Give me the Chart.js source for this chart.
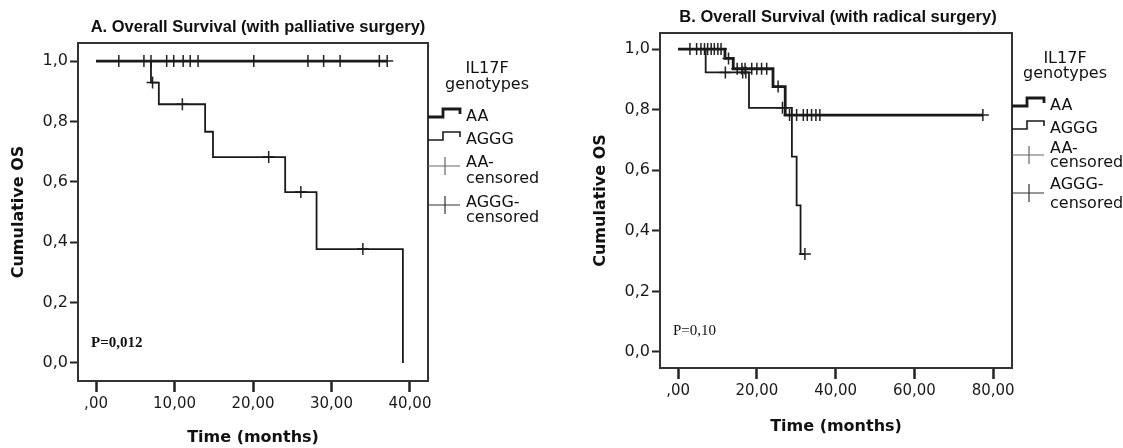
<!DOCTYPE html>
<html>
<head>
<meta charset="utf-8">
<script src="https://cdn.jsdelivr.net/npm/chart.js@4.4.1/dist/chart.umd.min.js"></script>
<style>
  body { margin: 0; background: #fff; width: 1123px; height: 448px; overflow: hidden; position: relative; }
  #wrapA { position: absolute; left: 0; top: 0; }
  #wrapB { position: absolute; left: 560px; top: 0; }
</style>
</head>
<body>
<div id="wrapA"><canvas id="chartA" width="560" height="448"></canvas></div>
<div id="wrapB"><canvas id="chartB" width="563" height="448"></canvas></div>
<script>
// Panel A - palliative surgery (Kaplan-Meier steps)
const timeA_AA = [0, 37.1];
const survA_AA = [1, 1];
const timeA_AGGG = [0, 7.0, 8.0, 13.9, 14.9, 24.1, 28.1, 39.1];
const survA_AGGG = [1, 0.929, 0.857, 0.766, 0.682, 0.566, 0.377, 0];
const censA_AA = [2.9, 6.1, 7.0, 9.0, 9.9, 11.1, 12.0, 13.0, 20.1, 27.0, 29.0, 31.1, 36.1, 37.1];
const censA_AGGG = [7.2, 11.0, 22.0, 26.1, 34.0];
const xTicksA = [0, 10, 20, 30, 40];

// Panel B - radical surgery
const timeB_AA = [0, 11.9, 14.0, 24.1, 27.2, 77.4];
const survB_AA = [1, 0.969, 0.935, 0.876, 0.782, 0.782];
const timeB_AGGG = [0, 7.0, 18.0, 28.9, 30.1, 31.1, 32.2];
const survB_AGGG = [1, 0.923, 0.806, 0.645, 0.484, 0.323, 0.323];
const censB_AA = [3.0, 4.7, 5.8, 6.7, 7.5, 8.4, 9.2, 10.1, 10.9, 12.8, 15.0, 16.2, 17.0, 18.7, 20.0, 21.2, 22.5, 25.4, 28.3, 30.1, 31.8, 32.8, 33.9, 35.0, 36.0, 77.4];
const censB_AGGG = [12.0, 16.4, 17.2, 26.5, 32.2];
const xTicksB = [0, 20, 40, 60, 80];

const yTicks = [0, 0.2, 0.4, 0.6, 0.8, 1.0];
const groups = ["AA", "AGGG"];

const INK = "#1a1a1a";

function survAt(times, surv, t) {
  let s = surv[0];
  for (let i = 0; i < times.length; i++) {
    if (times[i] <= t) s = surv[i];
  }
  return s;
}

function curve(times, surv, width, label) {
  return {
    label: label,
    data: times.map((t, i) => ({ x: t, y: surv[i] })),
    stepped: true,
    borderColor: INK,
    borderWidth: width,
    pointRadius: 0,
    fill: false
  };
}

function censMarks(cens, times, surv, label) {
  return {
    label: label,
    data: cens.map(t => ({ x: t, y: survAt(times, surv, t) })),
    showLine: false,
    pointStyle: "cross",
    pointRadius: 6,
    pointBorderWidth: 1.5,
    pointBorderColor: "#222",
    borderColor: "#222"
  };
}

// frame around plot area
const framePlugin = {
  id: "frame",
  beforeDatasetsDraw(chart) {
    const a = chart.chartArea, ctx = chart.ctx;
    ctx.save();
    ctx.strokeStyle = "#333";
    ctx.lineWidth = 2;
    ctx.strokeRect(a.left, a.top, a.right - a.left, a.bottom - a.top);
    ctx.restore();
  }
};

// title, SPSS style legend and p value
const decoPlugin = {
  id: "deco",
  afterDraw(chart, args, o) {
    const ctx = chart.ctx, r = chart.chartArea.right;
    ctx.save();
    ctx.fillStyle = "#111";
    ctx.textBaseline = "alphabetic";

    ctx.font = 'bold 16.5px "Liberation Sans", Arial, sans-serif';
    ctx.textAlign = "center";
    ctx.fillText(o.title, o.titleX, o.titleY);

    ctx.font = '16px "DejaVu Sans", sans-serif';
    ctx.fillText("IL17F", o.headX, o.rows[0]);
    ctx.fillText("genotypes", o.headX, o.rows[1]);

    ctx.textAlign = "left";
    const tx = r + 38;
    ctx.strokeStyle = INK;
    // AA / AGGG step glyphs
    [[o.rows[2], 2.8], [o.rows[3], 1.6]].forEach(([y, w], i) => {
      ctx.lineWidth = w;
      ctx.beginPath();
      ctx.moveTo(r, y - 4);
      ctx.lineTo(r + 15, y - 4);
      ctx.lineTo(r + 15, y - 12);
      ctx.lineTo(r + 32, y - 12);
      ctx.lineTo(r + 32, y - 7);
      ctx.stroke();
      ctx.fillText(groups[i], tx, y);
    });
    // censored glyphs
    [[o.rows[4], o.rows[5], o.lines[0]], [o.rows[6], o.rows[7], o.lines[1]]].forEach(([y1, y2, ly], i) => {
      ctx.strokeStyle = i === 0 ? "#666" : "#333";
      ctx.lineWidth = 1.2;
      ctx.beginPath();
      ctx.moveTo(r, ly);
      ctx.lineTo(r + 32, ly);
      ctx.moveTo(r + 17, ly - 9);
      ctx.lineTo(r + 17, ly + 9);
      ctx.stroke();
      ctx.fillText(groups[i] + "-", tx, y1);
      ctx.fillText("censored", tx, y2);
    });

    ctx.font = o.pFont;
    ctx.fillText(o.pText, o.pX, o.pY);
    ctx.restore();
  }
};

function fmtX(v) {
  let s = v.toFixed(2).replace(".", ",");
  return s.startsWith("0,") ? s.slice(1) : s;
}

function makeChart(id, cfg) {
  return new Chart(document.getElementById(id), {
    type: "line",
    data: {
      datasets: [
        curve(cfg.tAA, cfg.sAA, 2.8, "AA"),
        curve(cfg.tAG, cfg.sAG, 1.8, "AGGG"),
        censMarks(cfg.cAA, cfg.tAA, cfg.sAA, "AA-censored"),
        censMarks(cfg.cAG, cfg.tAG, cfg.sAG, "AGGG-censored")
      ]
    },
    plugins: [framePlugin, decoPlugin],
    options: {
      responsive: false,
      animation: false,
      layout: { padding: { top: cfg.padTop, right: cfg.padRight, left: 0, bottom: 0 } },
      plugins: {
        legend: { display: false },
        tooltip: { enabled: false },
        deco: cfg.deco
      },
      scales: {
        x: {
          type: "linear",
          min: cfg.xMin,
          max: cfg.xMax,
          afterBuildTicks: s => { s.ticks = cfg.xTicks.map(v => ({ value: v })); },
          afterFit: s => { s.height = cfg.xHeight; },
          border: { display: false },
          grid: { drawOnChartArea: false, drawTicks: true, tickLength: 11, tickWidth: 2.5, tickColor: "#222" },
          ticks: { padding: 3, color: INK, font: { family: "DejaVu Sans", size: 15 }, callback: v => fmtX(v) },
          title: { display: true, text: "Time (months)", color: "#111",
                   font: { family: "DejaVu Sans", weight: "bold", size: 16 },
                   padding: { top: 0, bottom: cfg.xTitlePad } }
        },
        y: {
          min: cfg.yMin,
          max: cfg.yMax,
          afterBuildTicks: s => { s.ticks = yTicks.map(v => ({ value: v })); },
          afterFit: s => { s.width = cfg.yWidth; },
          border: { display: false },
          grid: { drawOnChartArea: false, drawTicks: true, tickLength: 8, tickWidth: 2, tickColor: "#222" },
          ticks: { padding: 2, color: INK, font: { family: "DejaVu Sans", size: 16 }, callback: v => v.toFixed(1).replace(".", ",") },
          title: { display: true, text: "Cumulative OS", color: "#111",
                   font: { family: "DejaVu Sans", weight: "bold", size: 16 },
                   padding: { top: cfg.yTitlePad, bottom: 0 } }
        }
      }
    }
  });
}

makeChart("chartA", {
  tAA: timeA_AA, sAA: survA_AA, tAG: timeA_AGGG, sAG: survA_AGGG,
  cAA: censA_AA, cAG: censA_AGGG, xTicks: xTicksA,
  xMin: -2.3, xMax: 42.3, yMin: -0.06, yMax: 1.06,
  padTop: 43, padRight: 132, xHeight: 67, yWidth: 78, xTitlePad: 1, yTitlePad: 9,
  deco: {
    title: "A. Overall Survival (with palliative surgery)", titleX: 258, titleY: 32,
    headX: 487, rows: [73, 89, 121, 144, 167, 183, 207, 222], lines: [166, 205],
    pText: "P=0,012", pFont: 'bold 15px "Liberation Serif", serif', pX: 91, pY: 347
  }
});

makeChart("chartB", {
  tAA: timeB_AA, sAA: survB_AA, tAG: timeB_AGGG, sAG: survB_AGGG,
  cAA: censB_AA, cAG: censB_AGGG, xTicks: xTicksB,
  xMin: -4.6, xMax: 84.8, yMin: -0.053, yMax: 1.053,
  padTop: 33, padRight: 111, xHeight: 80, yWidth: 100, xTitlePad: 12, yTitlePad: 31,
  deco: {
    title: "B. Overall Survival (with radical surgery)", titleX: 278, titleY: 22,
    headX: 505, rows: [63, 78, 110, 133, 153, 167, 189, 208], lines: [155, 193],
    pText: "P=0,10", pFont: '15px "Liberation Serif", serif', pX: 113, pY: 335
  }
});
</script>
</body>
</html>
